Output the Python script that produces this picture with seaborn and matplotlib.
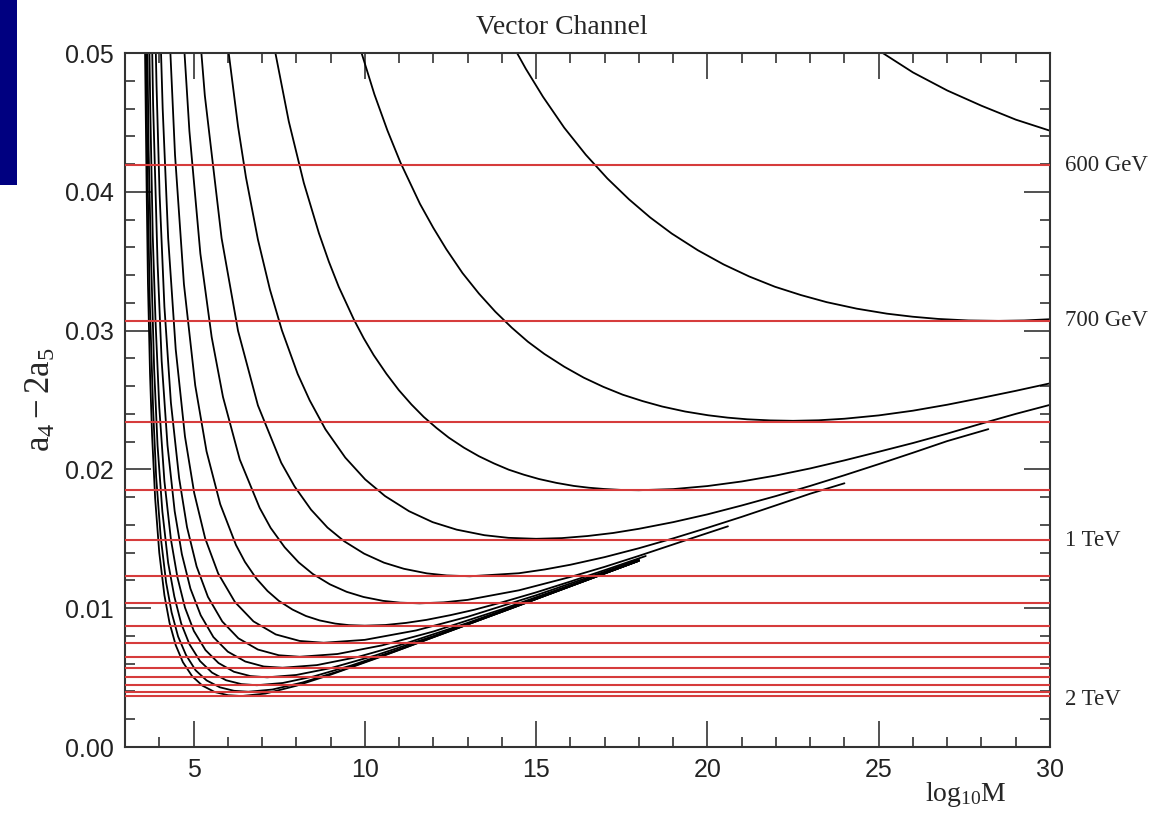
import matplotlib
matplotlib.use("Agg")
import matplotlib.pyplot as plt
from matplotlib.ticker import MultipleLocator, FormatStrFormatter
from matplotlib.patches import Rectangle
import pandas as pd
import seaborn as sns

# ---------------- data ----------------
# horizontal resonance-mass lines (a4 - 2a5 values)
mass_lines = [0.04193, 0.03069, 0.02344, 0.01852, 0.01491, 0.01232, 0.01035,
              0.00874, 0.00751, 0.00650, 0.00571, 0.00502, 0.00445, 0.00398, 0.00367]
mass_labels = ["600 GeV", "700 GeV", "1 TeV", "2 TeV"]
mass_label_y = [0.0419, 0.0307, 0.0149, 0.0034]

c01_x = [24.8, 26.0, 27.0, 28.0, 29.0, 30.0]
c01_y = [0.0505, 0.0486, 0.0473, 0.0462, 0.0452, 0.0444]

c02_x = [14.19, 14.70, 15.20, 15.82, 16.45, 17.08, 17.71, 18.33, 18.96, 19.72, 20.47, 21.22,
         21.97, 22.73, 23.48, 24.36, 25.24, 25.99, 26.74, 27.62, 28.50, 29.25, 30.00]
c02_y = [0.05112, 0.04886, 0.04685, 0.04462, 0.04267, 0.04096, 0.03946, 0.03815, 0.03699, 0.03579,
         0.03477, 0.03390, 0.03316, 0.03256, 0.03205, 0.03158, 0.03122, 0.03100, 0.03084, 0.03073,
         0.03070, 0.03073, 0.03082]

c03_x = [9.70, 10.28, 10.66, 11.04, 11.61, 12.00, 12.38, 12.85, 13.33, 13.81, 14.29, 14.76, 15.24,
         15.82, 16.39, 16.96, 17.53, 18.11, 18.68, 19.35, 20.02, 20.59, 21.16, 21.83, 22.50,
         23.25, 24.00, 25.00, 26.00, 27.00, 28.00, 29.00, 30.00]
c03_y = [0.05163, 0.04702, 0.04442, 0.04211, 0.03913, 0.03740, 0.03586, 0.03415, 0.03267, 0.03136,
         0.03021, 0.02920, 0.02832, 0.02740, 0.02661, 0.02595, 0.02538, 0.02492, 0.02453, 0.02417,
         0.02390, 0.02373, 0.02361, 0.02353, 0.02350, 0.02354, 0.02365, 0.02389, 0.02423, 0.02466,
         0.02515, 0.02566, 0.02620]

c04_x = [7.05, 7.34, 7.78, 8.22, 8.66, 8.95, 9.24, 9.68, 9.97, 10.26, 10.63, 10.99, 11.36, 11.72,
         12.09, 12.45, 12.89, 13.33, 13.77, 14.20, 14.64, 15.08, 15.59, 16.10, 16.54, 16.98, 17.49,
         18.00, 19.00, 20.00, 21.00, 22.00, 23.00, 24.00, 25.00, 26.00, 27.00, 28.00, 29.00, 30.00]
c04_y = [0.05513, 0.05063, 0.04508, 0.04064, 0.03702, 0.03497, 0.03315, 0.03080, 0.02944, 0.02823,
         0.02689, 0.02572, 0.02468, 0.02378, 0.02299, 0.02229, 0.02157, 0.02095, 0.02043, 0.01998,
         0.01962, 0.01931, 0.01903, 0.01881, 0.01868, 0.01859, 0.01852, 0.01850, 0.01858, 0.01880,
         0.01913, 0.01956, 0.02007, 0.02065, 0.02127, 0.02190, 0.02258, 0.02330, 0.02400, 0.02465]

c05_x = [5.95, 6.30, 6.53, 6.88, 7.23, 7.58, 8.04, 8.39, 8.85, 9.43, 10.01, 10.59, 11.29, 11.98,
         12.68, 13.49, 14.19, 15.00, 15.75, 16.50, 17.25, 18.00, 19.00, 20.00, 21.00, 22.00, 23.00,
         24.00, 25.00, 26.00, 27.00, 28.20]
c05_y = [0.05150, 0.04470, 0.04105, 0.03656, 0.03296, 0.03002, 0.02688, 0.02498, 0.02289, 0.02085,
         0.01928, 0.01808, 0.01699, 0.01620, 0.01566, 0.01526, 0.01507, 0.01500, 0.01505, 0.01520,
         0.01542, 0.01572, 0.01620, 0.01676, 0.01740, 0.01808, 0.01881, 0.01958, 0.02038, 0.02120,
         0.02204, 0.02290]

c06_x = [5.14, 5.33, 5.82, 6.30, 6.88, 7.56, 7.95, 8.43, 8.91, 9.40, 9.98, 10.56, 11.14, 11.81,
         12.39, 13.07, 14.50, 15.25, 16.00, 17.00, 18.00, 19.00, 20.00, 21.00, 22.00, 23.00, 24.00]
c06_y = [0.05273, 0.04694, 0.03665, 0.02998, 0.02461, 0.02048, 0.01877, 0.01710, 0.01581, 0.01482,
         0.01393, 0.01328, 0.01284, 0.01251, 0.01236, 0.01230, 0.01252, 0.01279, 0.01313, 0.01368,
         0.01432, 0.01503, 0.01579, 0.01658, 0.01741, 0.01825, 0.01900]

c07_x = [4.63, 4.88, 5.20, 5.53, 5.86, 6.35, 6.93, 7.25, 7.66, 8.07, 8.48, 8.98, 9.47, 9.96, 10.53,
         11.03, 11.60, 12.30, 13.00, 14.50, 16.00, 17.00, 18.00, 19.30, 20.60]
c07_y = [0.05422, 0.04437, 0.03554, 0.02953, 0.02522, 0.02071, 0.01723, 0.01579, 0.01439, 0.01330,
         0.01247, 0.01172, 0.01118, 0.01081, 0.01053, 0.01040, 0.01035, 0.01042, 0.01060, 0.01129,
         0.01225, 0.01298, 0.01377, 0.01484, 0.01590]

c08_x = [4.26, 4.46, 4.72, 5.05, 5.38, 5.78, 6.24, 6.50, 6.83, 7.16, 7.49, 7.89, 8.28, 8.68, 9.14,
         9.54, 10.00, 10.60, 11.20, 11.80, 12.50, 13.20, 14.00, 15.00, 16.00, 17.00, 18.20]
c08_y = [0.05352, 0.04266, 0.03335, 0.02605, 0.02130, 0.01749, 0.01455, 0.01334, 0.01215, 0.01124,
         0.01053, 0.00990, 0.00944, 0.00912, 0.00889, 0.00878, 0.00874, 0.00879, 0.00894, 0.00916,
         0.00950, 0.00989, 0.01042, 0.01114, 0.01192, 0.01274, 0.01376]

c09_x = [3.99, 4.10, 4.26, 4.48, 4.75, 5.02, 5.34, 5.72, 6.21, 6.75, 7.40, 8.10, 8.80, 10.00, 11.50,
         13.00, 15.00, 17.00, 18.00]
c09_y = [0.05510, 0.04599, 0.03666, 0.02866, 0.02238, 0.01830, 0.01503, 0.01250, 0.01044, 0.00905,
         0.00811, 0.00764, 0.00751, 0.00772, 0.00840, 0.00938, 0.01093, 0.01263, 0.01351]

c10_x = [3.85, 3.92, 4.01, 4.15, 4.34, 4.58, 4.81, 5.09, 5.42, 5.84, 6.31, 6.88, 7.49, 8.10, 9.20,
         10.50, 12.00, 14.00, 16.00, 18.00]
c10_y = [0.05582, 0.04769, 0.03981, 0.03173, 0.02480, 0.01937, 0.01584, 0.01301, 0.01082, 0.00904,
         0.00783, 0.00702, 0.00661, 0.00650, 0.00670, 0.00732, 0.00832, 0.00992, 0.01166, 0.01345]

c11_x = [3.76, 3.82, 3.95, 4.07, 4.24, 4.45, 4.66, 4.91, 5.21, 5.58, 6.00, 6.51, 7.05, 7.60, 8.60,
         9.80, 11.20, 13.00, 15.00, 18.00]
c11_y = [0.05511, 0.04633, 0.03491, 0.02782, 0.02175, 0.01699, 0.01389, 0.01141, 0.00949, 0.00792,
         0.00687, 0.00616, 0.00580, 0.00571, 0.00590, 0.00649, 0.00747, 0.00894, 0.01070, 0.01342]

c12_x = [3.68, 3.74, 3.81, 3.89, 4.00, 4.15, 4.34, 4.53, 4.75, 5.01, 5.35, 5.73, 6.18, 6.66, 7.15,
         8.00, 9.00, 10.30, 12.00, 15.00, 18.00]
c12_y = [0.05542, 0.04567, 0.03683, 0.03074, 0.02450, 0.01916, 0.01496, 0.01223, 0.01005, 0.00836,
         0.00698, 0.00605, 0.00542, 0.00511, 0.00502, 0.00519, 0.00568, 0.00659, 0.00799, 0.01068,
         0.01342]

c13_x = [3.64, 3.69, 3.75, 3.85, 3.95, 4.09, 4.26, 4.44, 4.64, 4.88, 5.19, 5.54, 5.95, 6.40, 6.85,
         7.60, 8.50, 9.60, 11.00, 14.00, 18.00]
c13_y = [0.05284, 0.04302, 0.03617, 0.02725, 0.02172, 0.01698, 0.01326, 0.01084, 0.00890, 0.00741,
         0.00619, 0.00536, 0.00481, 0.00453, 0.00445, 0.00461, 0.00508, 0.00587, 0.00704, 0.00974,
         0.01342]

c14_x = [3.61, 3.66, 3.72, 3.82, 3.91, 4.04, 4.20, 4.36, 4.55, 4.78, 5.06, 5.38, 5.77, 6.18, 6.60,
         7.30, 8.20, 9.30, 11.00, 14.00, 18.00]
c14_y = [0.05109, 0.04103, 0.03235, 0.02437, 0.01943, 0.01519, 0.01186, 0.00970, 0.00796, 0.00663,
         0.00553, 0.00480, 0.00430, 0.00405, 0.00398, 0.00414, 0.00466, 0.00551, 0.00700, 0.00974,
         0.01342]

c15_x = [3.58, 3.63, 3.67, 3.73, 3.79, 3.88, 4.00, 4.15, 4.30, 4.48, 4.69, 4.96, 5.26, 5.62, 6.01,
         6.40, 7.10, 8.00, 9.00, 10.50, 14.00, 18.00]
c15_y = [0.05123, 0.04052, 0.03339, 0.02693, 0.02248, 0.01791, 0.01400, 0.01094, 0.00894, 0.00734,
         0.00611, 0.00510, 0.00442, 0.00396, 0.00373, 0.00367, 0.00385, 0.00441, 0.00521, 0.00653,
         0.00974, 0.01342]

x_range = (3, 30)
y_range = (0.0, 0.05)

curves = [(c01_x, c01_y), (c02_x, c02_y), (c03_x, c03_y), (c04_x, c04_y), (c05_x, c05_y),
          (c06_x, c06_y), (c07_x, c07_y), (c08_x, c08_y), (c09_x, c09_y), (c10_x, c10_y),
          (c11_x, c11_y), (c12_x, c12_y), (c13_x, c13_y), (c14_x, c14_y), (c15_x, c15_y)]

# ---------------- styling ----------------
sns.set_theme(style="white")
plt.rcParams["font.family"] = ["Liberation Sans", "DejaVu Sans"]
plt.rcParams["mathtext.fontset"] = "custom"
plt.rcParams["mathtext.rm"] = "Liberation Serif"
plt.rcParams["mathtext.it"] = "Liberation Serif:italic"
plt.rcParams["mathtext.bf"] = "Liberation Serif:bold"

W, H = 1162, 813
fig = plt.figure(figsize=(W / 100, H / 100), dpi=100, facecolor="white")
ax = fig.add_axes([125 / W, 1 - 747 / H, 925 / W, 694 / H])
ax.set_facecolor("white")

frames = []
for i, (xs, ys) in enumerate(curves):
    frames.append(pd.DataFrame({"log10M": xs, "a": ys, "curve": i}))
df = pd.concat(frames, ignore_index=True)

sns.lineplot(data=df, x="log10M", y="a", units="curve", estimator=None, sort=False,
             color="black", linewidth=1.3, ax=ax, legend=False, zorder=2)

for yv in mass_lines:
    ax.axhline(yv, color="#d63c3c", linewidth=1.5, zorder=3)

ax.set_xlim(*x_range)
ax.set_ylim(*y_range)

ax.xaxis.set_major_locator(MultipleLocator(5))
ax.xaxis.set_minor_locator(MultipleLocator(1))
ax.yaxis.set_major_locator(MultipleLocator(0.01))
ax.yaxis.set_minor_locator(MultipleLocator(0.002))
ax.yaxis.set_major_formatter(FormatStrFormatter("%.2f"))

ax.tick_params(which="both", direction="in", top=True, right=True, bottom=True, left=True,
               color="#333333", width=1.2)
ax.tick_params(which="major", length=19)
ax.tick_params(which="minor", length=7)
ax.tick_params(axis="y", which="major", labelsize=18, pad=8, labelcolor="#222222")
ax.tick_params(axis="x", which="major", labelsize=18, pad=8, labelcolor="#222222")

for sp in ax.spines.values():
    sp.set_color("#333333")
    sp.set_linewidth(1.5)
    sp.set_visible(True)

ax.set_xlabel("")
ax.set_ylabel(r"$\mathrm{a_4 - 2a_5}$", fontsize=25)
ax.yaxis.set_label_coords(-0.074, 0.5)

ax.text(0.909, -0.078, r"log$_{\mathregular{10}}$M", transform=ax.transAxes,
        ha="center", va="baseline", fontsize=20, family="Liberation Serif")

fig.text(562 / W, 1 - 27 / H, "Vector Channel", ha="center", va="center",
         fontsize=20, family="Liberation Serif")

for lab, yv in zip(mass_labels, mass_label_y):
    ax.text(1.016, yv, lab, transform=ax.get_yaxis_transform(), ha="left", va="center",
            fontsize=16.5, family="Liberation Serif")

fig.patches.append(Rectangle((0, 1 - 185 / H), 17 / W, 185 / H, transform=fig.transFigure,
                             facecolor="#000080", edgecolor="none", zorder=0))

fig.savefig("out.png", dpi=100, facecolor="white")
